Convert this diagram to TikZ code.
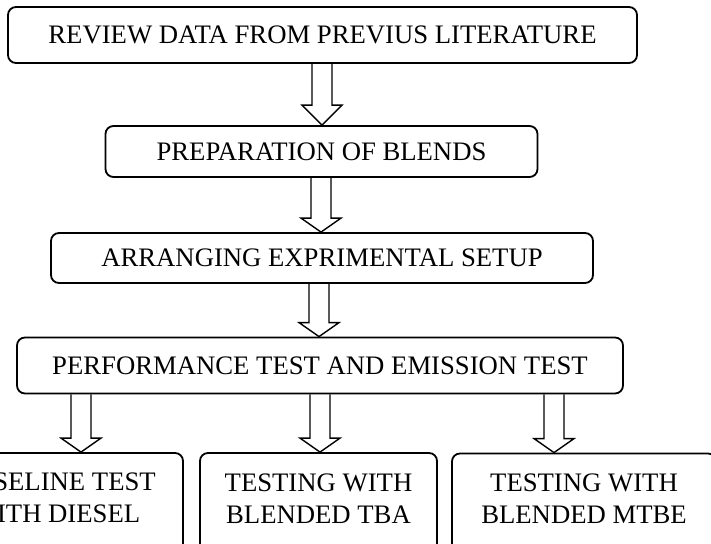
\documentclass[tikz,border=0pt]{standalone}
\usepackage{fontspec}
\setmainfont{Liberation Serif}
\usetikzlibrary{calc}
\tikzset{
  stepbox/.style={draw, line width=1.8bp, rounded corners=8bp, inner sep=0pt,
    font=\fontsize{26.7bp}{32bp}\selectfont},
  blk/.style={draw, line width=1.4bp, line join=miter},
  lbl/.style={align=center, inner sep=0pt, font=\fontsize{26.7bp}{32bp}\selectfont}
}
% #1 x of the arrow, #2 head length, #3 source node, #4 target node
\newcommand{\blkarrow}[4]{%
  \draw[blk] let \p1=(#3.south), \p2=(#4.north) in
    (#1-10bp,\y1) -- (#1-10bp,\y2+#2) -- (#1-20bp,\y2+#2) -- (#1,\y2)
    -- (#1+20bp,\y2+#2) -- (#1+10bp,\y2+#2) -- (#1+10bp,\y1);}
\begin{document}
\begin{tikzpicture}[x=1bp,y=-1bp]
\useasboundingbox (0,0) rectangle (711,544);
\clip (0,0) rectangle (711,544);
\node[stepbox, minimum width=629bp, minimum height=56bp] (b1) at (322.5,35) {REVIEW DATA FROM PREVIUS LITERATURE};
\node[stepbox, minimum width=432bp, minimum height=51bp] (b2) at (321.5,151.5) {PREPARATION OF BLENDS};
\node[stepbox, minimum width=542bp, minimum height=50bp] (b3) at (322,258) {ARRANGING EXPRIMENTAL SETUP};
\node[stepbox, minimum width=606bp, minimum height=56bp] (b4) at (320,365.5) {PERFORMANCE TEST AND EMISSION TEST};
\node[stepbox, minimum width=254bp, minimum height=107bp,
  label={[lbl,yshift=8.3bp]center:{BASELINE TEST\\WITH DIESEL}}] (b5a) at (56,506.5) {};
\node[stepbox, minimum width=237bp, minimum height=107bp,
  label={[lbl,yshift=8.3bp]center:{TESTING WITH\\BLENDED TBA}}] (b5b) at (318.5,506.5) {};
\node[stepbox, minimum width=264bp, minimum height=107bp,
  label={[lbl,yshift=8.3bp]center:{TESTING WITH\\BLENDED MTBE}}] (b5c) at (584,507) {};
\blkarrow{322bp}{20bp}{b1}{b2}
\blkarrow{321bp}{14bp}{b2}{b3}
\blkarrow{319bp}{14bp}{b3}{b4}
\blkarrow{81bp}{14bp}{b4}{b5a}
\blkarrow{320bp}{14bp}{b4}{b5b}
\blkarrow{554bp}{14bp}{b4}{b5c}
\end{tikzpicture}
\end{document}
